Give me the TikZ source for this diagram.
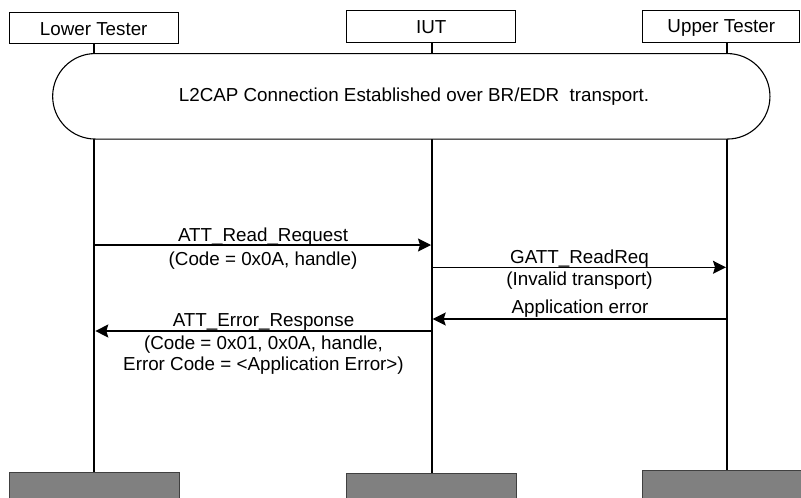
\documentclass[tikz,border=0pt]{standalone}
\usepackage{fontspec}
\setmainfont{Liberation Sans}
\usetikzlibrary{arrows.meta}
\begin{document}
\begin{tikzpicture}[x=1pt,y=-1pt,
  every node/.style={font=\fontsize{18.8}{22}\selectfont, inner sep=0pt},
  hdr/.style={draw, line width=1pt, fill=white, text height=13.4pt, text depth=0pt},
  foot/.style={draw=black!75, line width=1pt, fill=black!50, anchor=north},
  life/.style={line width=1.8pt},
  msg/.style={line width=1.2pt, -{Stealth[length=13pt,width=13pt,inset=2pt]}},
  lbl/.style={anchor=base}]
\useasboundingbox (0,0) rectangle (801,498);

% lifelines
\coordinate (t1) at (94.3,44);   \coordinate (b1) at (94.3,472);
\coordinate (t2) at (431.7,42.7); \coordinate (b2) at (431.7,473.3);
\coordinate (t3) at (727,42.3);  \coordinate (b3) at (727,470);
\draw[life] (t1) -- (b1);
\draw[life] (t2) -- (b2);
\draw[life] (t3) -- (b3);

% header boxes
\node[hdr, minimum width=168.7pt, minimum height=31.3pt] (lt) at (93.7,28.3) {Lower Tester};
\node[hdr, minimum width=168.7pt, minimum height=32.4pt] (iut) at (431.3,26.5) {IUT};
\node[hdr, minimum width=157.3pt, minimum height=32.3pt] (ut) at (721.3,26.2) {Upper Tester};

% footer boxes
\node[foot, minimum width=169.7pt, minimum height=40pt] (ltf) at (94.15,471.7) {};
\node[foot, minimum width=169.3pt, minimum height=40pt] (iutf) at (431.35,473.3) {};
\node[foot, minimum width=158.7pt, minimum height=40pt] (utf) at (721.65,470) {};

% connection box
\node[draw, line width=1.1pt, fill=white, rounded corners=42.7pt,
      minimum width=717.3pt, minimum height=85.5pt] (conn) at (411.3,96.3) {};
\node (connlbl) at (414,96.3) {L2CAP Connection Established over BR/EDR\ \ transport.};

% messages
\coordinate (m1s) at (94.3,245);  \coordinate (m1e) at (431,245);
\draw[msg] (m1s) -- (m1e);
\node[lbl] (m1a) at (263,241.7) {ATT\_Read\_Request};
\node[lbl] (m1b) at (263,265) {(Code = 0x0A, handle)};

\coordinate (m2s) at (431.7,267.3); \coordinate (m2e) at (726,267.3);
\draw[msg] (m2s) -- (m2e);
\node[lbl] (m2a) at (579.5,263.3) {GATT\_ReadReq};
\node[lbl] (m2b) at (579.5,285) {(Invalid transport)};

\coordinate (m3s) at (727,319); \coordinate (m3e) at (432.7,319);
\draw[msg] (m3s) -- (m3e);
\node[lbl] (m3a) at (580,313.3) {Application error};

\coordinate (m4s) at (431.7,331); \coordinate (m4e) at (95.3,331);
\draw[msg] (m4s) -- (m4e);
\node[lbl] (m4a) at (263.5,326) {ATT\_Error\_Response};
\node[lbl] (m4b) at (263.5,349.3) {(Code = 0x01, 0x0A, handle,};
\node[lbl] (m4c) at (263.5,370) {Error Code = <Application Error>)};
\end{tikzpicture}
\end{document}
